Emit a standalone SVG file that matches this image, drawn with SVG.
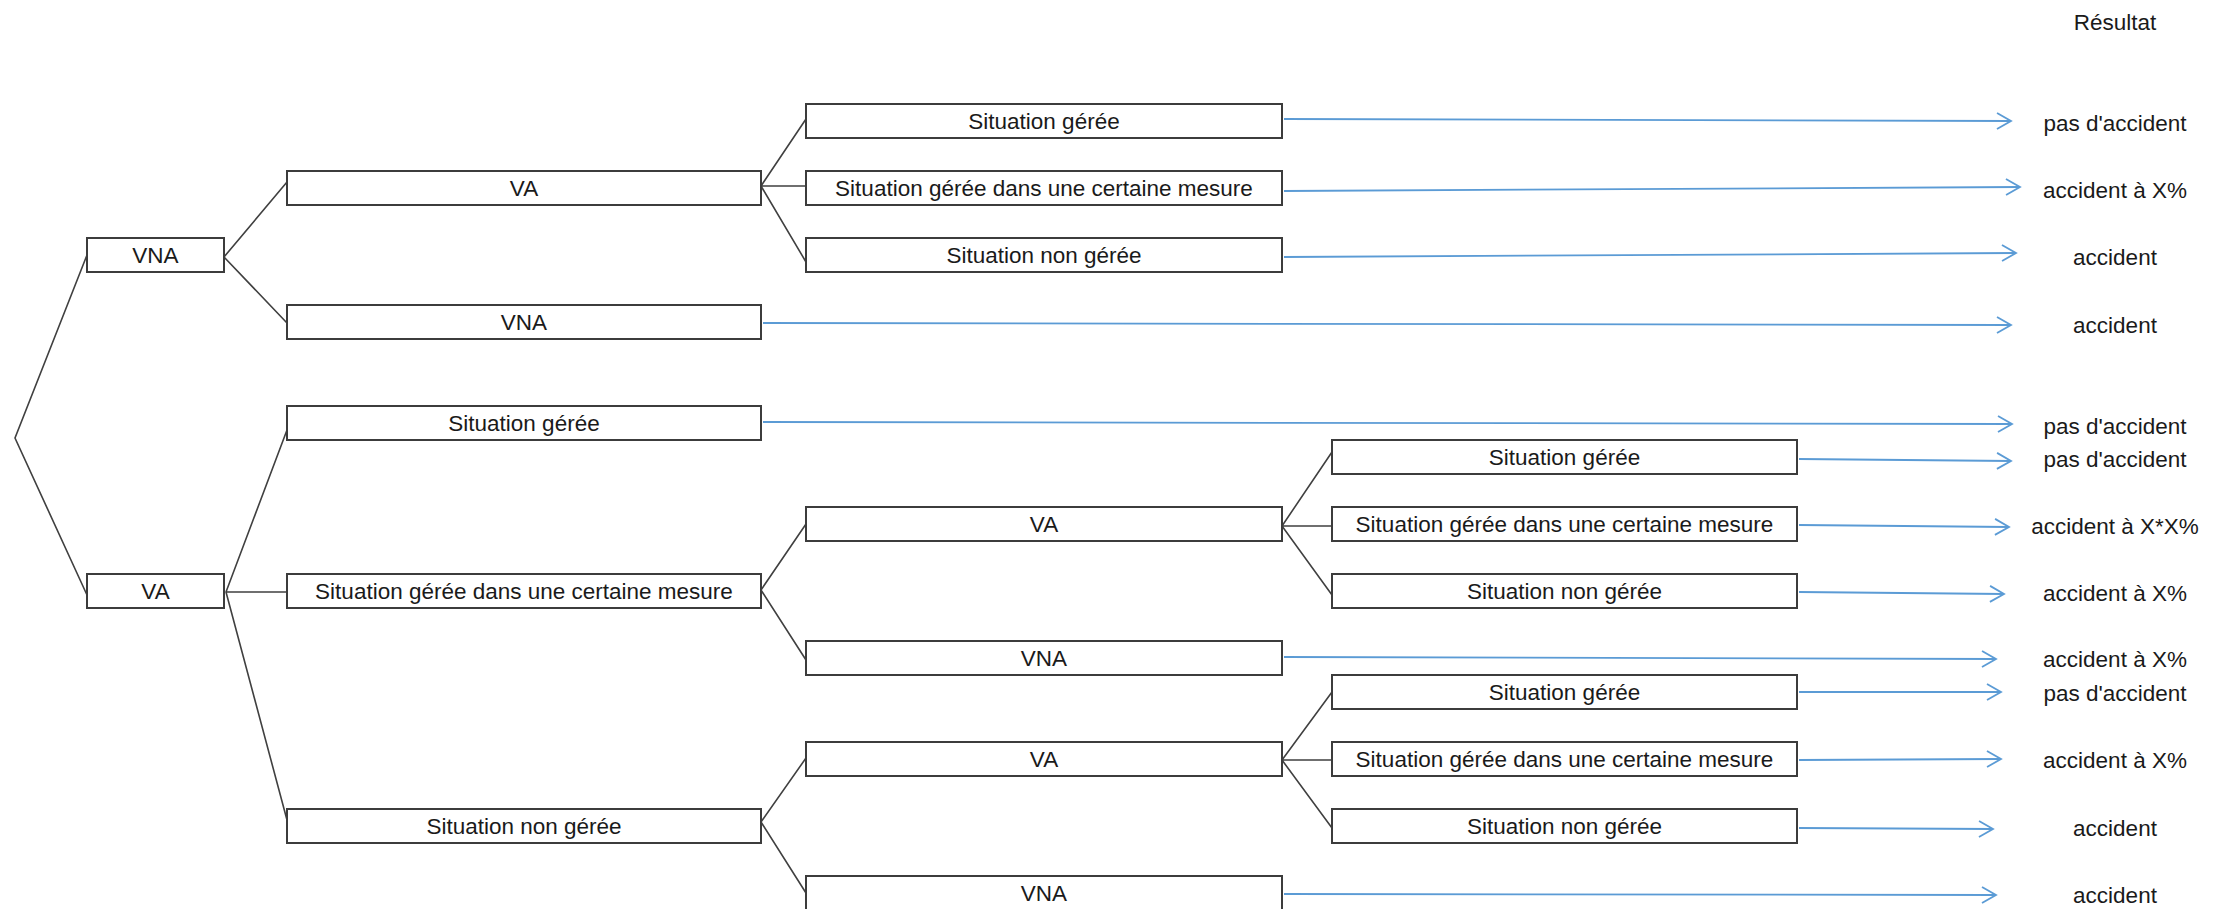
<svg xmlns="http://www.w3.org/2000/svg" width="2216" height="909" viewBox="0 0 2216 909">
<style>
.box{fill:#fff;stroke:#3c3c3c;stroke-width:2}
.t{font-family:"Liberation Sans",Arial,sans-serif;font-size:22.5px;fill:#1a1a1a;text-anchor:middle}
.c{fill:none;stroke:#404040;stroke-width:1.6}
.a{fill:none;stroke:#5b9bd5;stroke-width:1.8;marker-end:url(#ah)}
</style>
<defs>
<marker id="ah" markerUnits="userSpaceOnUse" markerWidth="20" markerHeight="20" viewBox="-16 -10 18 20" refX="0" refY="0" orient="auto">
<path d="M-14,-8 L0,0 L-14,8" fill="none" stroke="#5b9bd5" stroke-width="1.8"/>
</marker>
</defs>
<rect width="2216" height="909" fill="#fff"/>
<g id="connectors">
<path class="c" d="M87,255 L15,438 L87,595"/>
<path class="c" d="M287,182 L224,257 L287,323"/>
<path class="c" d="M287,430 L226,592 L287,820 M226,592 H287"/>
<path class="c" d="M806,119 L761,186 L806,262 M761,186 H806"/>
<path class="c" d="M806,524 L761,590 L806,660"/>
<path class="c" d="M1332,452 L1282,526 L1332,595 M1282,526 H1332"/>
<path class="c" d="M806,758 L761,822 L806,893"/>
<path class="c" d="M1332,692 L1282,760 L1332,828 M1282,760 H1332"/>
<line class="a" x1="1284" y1="119" x2="2011" y2="121"/>
<line class="a" x1="1284" y1="191" x2="2020" y2="187"/>
<line class="a" x1="1284" y1="257" x2="2016" y2="253"/>
<line class="a" x1="763" y1="323" x2="2011" y2="325"/>
<line class="a" x1="763" y1="422" x2="2012" y2="424"/>
<line class="a" x1="1799" y1="459" x2="2011" y2="461"/>
<line class="a" x1="1799" y1="525" x2="2009" y2="527"/>
<line class="a" x1="1799" y1="592" x2="2004" y2="594"/>
<line class="a" x1="1284" y1="657" x2="1996" y2="659"/>
<line class="a" x1="1799" y1="692" x2="2001" y2="692"/>
<line class="a" x1="1799" y1="760" x2="2001" y2="759"/>
<line class="a" x1="1799" y1="828" x2="1993" y2="829"/>
<line class="a" x1="1284" y1="894" x2="1996" y2="895"/>
</g>
<g id="n-l1-vna"><rect class="box" x="87" y="238" width="137" height="34"/><text class="t" x="155.5" y="263">VNA</text></g>
<g id="n-l1-va"><rect class="box" x="87" y="574" width="137" height="34"/><text class="t" x="155.5" y="599">VA</text></g>
<g id="n-l2-va"><rect class="box" x="287" y="171" width="474" height="34"/><text class="t" x="524" y="196">VA</text></g>
<g id="n-l2-vna"><rect class="box" x="287" y="305" width="474" height="34"/><text class="t" x="524" y="330">VNA</text></g>
<g id="n-l2-sg"><rect class="box" x="287" y="406" width="474" height="34"/><text class="t" x="524" y="431">Situation gérée</text></g>
<g id="n-l2-sgd"><rect class="box" x="287" y="574" width="474" height="34"/><text class="t" x="524" y="599">Situation gérée dans une certaine mesure</text></g>
<g id="n-l2-sng"><rect class="box" x="287" y="809" width="474" height="34"/><text class="t" x="524" y="834">Situation non gérée</text></g>
<g id="n-l3-sg"><rect class="box" x="806" y="104" width="476" height="34"/><text class="t" x="1044" y="129">Situation gérée</text></g>
<g id="n-l3-sgd"><rect class="box" x="806" y="171" width="476" height="34"/><text class="t" x="1044" y="196">Situation gérée dans une certaine mesure</text></g>
<g id="n-l3-sng"><rect class="box" x="806" y="238" width="476" height="34"/><text class="t" x="1044" y="263">Situation non gérée</text></g>
<g id="n-l3-va1"><rect class="box" x="806" y="507" width="476" height="34"/><text class="t" x="1044" y="532">VA</text></g>
<g id="n-l3-vna1"><rect class="box" x="806" y="641" width="476" height="34"/><text class="t" x="1044" y="666">VNA</text></g>
<g id="n-l3-va2"><rect class="box" x="806" y="742" width="476" height="34"/><text class="t" x="1044" y="767">VA</text></g>
<g id="n-l3-vna2"><rect class="box" x="806" y="876" width="476" height="34"/><text class="t" x="1044" y="901">VNA</text></g>
<g id="n-l4-sg1"><rect class="box" x="1332" y="440" width="465" height="34"/><text class="t" x="1564.5" y="465">Situation gérée</text></g>
<g id="n-l4-sgd1"><rect class="box" x="1332" y="507" width="465" height="34"/><text class="t" x="1564.5" y="532">Situation gérée dans une certaine mesure</text></g>
<g id="n-l4-sng1"><rect class="box" x="1332" y="574" width="465" height="34"/><text class="t" x="1564.5" y="599">Situation non gérée</text></g>
<g id="n-l4-sg2"><rect class="box" x="1332" y="675" width="465" height="34"/><text class="t" x="1564.5" y="700">Situation gérée</text></g>
<g id="n-l4-sgd2"><rect class="box" x="1332" y="742" width="465" height="34"/><text class="t" x="1564.5" y="767">Situation gérée dans une certaine mesure</text></g>
<g id="n-l4-sng2"><rect class="box" x="1332" y="809" width="465" height="34"/><text class="t" x="1564.5" y="834">Situation non gérée</text></g>
<g id="results">
<text class="t" x="2115" y="30">Résultat</text>
<text class="t" x="2115" y="131">pas d'accident</text>
<text class="t" x="2115" y="198">accident à X%</text>
<text class="t" x="2115" y="265">accident</text>
<text class="t" x="2115" y="333">accident</text>
<text class="t" x="2115" y="434">pas d'accident</text>
<text class="t" x="2115" y="467">pas d'accident</text>
<text class="t" x="2115" y="534">accident à X*X%</text>
<text class="t" x="2115" y="601">accident à X%</text>
<text class="t" x="2115" y="667">accident à X%</text>
<text class="t" x="2115" y="701">pas d'accident</text>
<text class="t" x="2115" y="768">accident à X%</text>
<text class="t" x="2115" y="836">accident</text>
<text class="t" x="2115" y="903">accident</text>
</g>
</svg>
